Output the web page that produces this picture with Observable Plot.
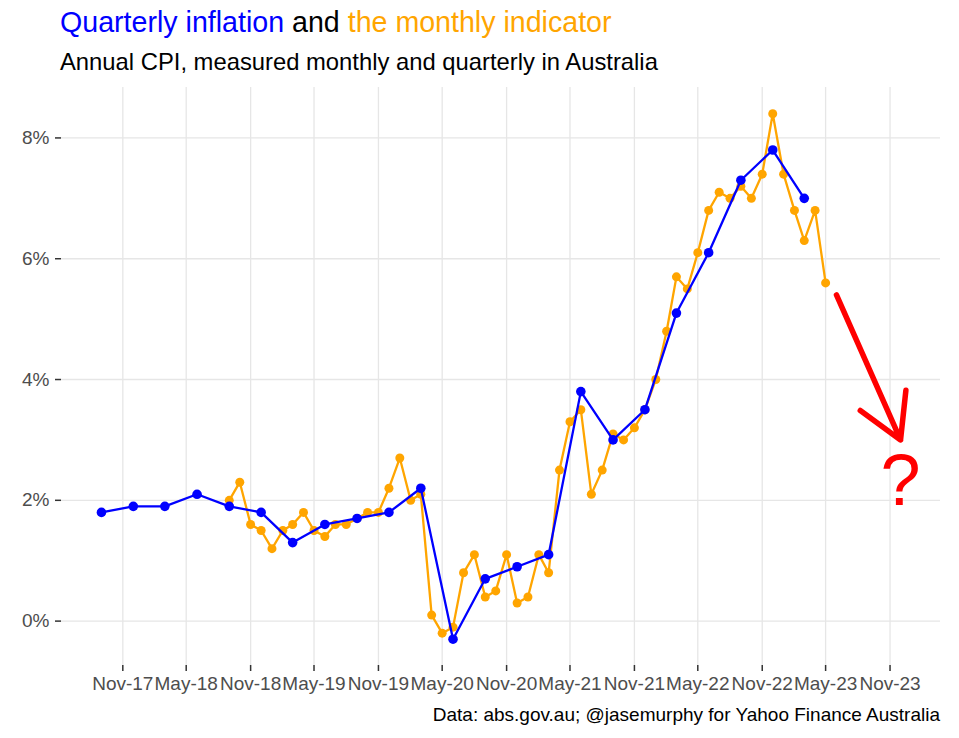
<!DOCTYPE html>
<html><head><meta charset="utf-8">
<script src="https://cdn.jsdelivr.net/npm/d3@7"></script>
<script src="https://cdn.jsdelivr.net/npm/@observablehq/plot@0.6"></script>
<style>
body{margin:0;background:#fff;font-family:"Liberation Sans",Arial,Helvetica,sans-serif;}
#wrap{position:relative;width:959px;height:738px;overflow:hidden;}
.t{position:absolute;white-space:nowrap;line-height:1;}
#title{left:60px;top:8px;font-size:28.6px;color:#000;}
#subtitle{left:60px;top:50px;font-size:23.8px;color:#000;}
#caption{right:19px;top:705px;font-size:19px;color:#000;}
#chart{position:absolute;left:0;top:80px;}
</style></head><body>
<div id="wrap">
<div id="title" class="t"><span style="color:#0000FF">Quarterly inflation</span> and <span style="color:#FFA500">the monthly indicator</span></div>
<div id="subtitle" class="t">Annual CPI, measured monthly and quarterly in Australia</div>
<div id="chart"></div>
<div id="caption" class="t">Data: abs.gov.au; @jasemurphy for Yahoo Finance Australia</div>
</div>
<script>
// Quarterly CPI (annual %)
const quarterDates = ["2017-09-01","2017-12-01","2018-03-01","2018-06-01","2018-09-01","2018-12-01",
  "2019-03-01","2019-06-01","2019-09-01","2019-12-01","2020-03-01","2020-06-01","2020-09-01","2020-12-01",
  "2021-03-01","2021-06-01","2021-09-01","2021-12-01","2022-03-01","2022-06-01","2022-09-01","2022-12-01","2023-03-01"];
const quarterValues = [1.8,1.9,1.9,2.1,1.9,1.8,1.3,1.6,1.7,1.8,2.2,-0.3,0.7,0.9,1.1,3.8,3.0,3.5,5.1,6.1,7.3,7.8,7.0];

// Monthly CPI indicator (annual %)
const monthDates = ["2018-09-01","2018-10-01","2018-11-01","2018-12-01",
  "2019-01-01","2019-02-01","2019-03-01","2019-04-01","2019-05-01","2019-06-01","2019-07-01","2019-08-01","2019-09-01","2019-10-01","2019-11-01","2019-12-01",
  "2020-01-01","2020-02-01","2020-03-01","2020-04-01","2020-05-01","2020-06-01","2020-07-01","2020-08-01","2020-09-01","2020-10-01","2020-11-01","2020-12-01",
  "2021-01-01","2021-02-01","2021-03-01","2021-04-01","2021-05-01","2021-06-01","2021-07-01","2021-08-01","2021-09-01","2021-10-01","2021-11-01","2021-12-01",
  "2022-01-01","2022-02-01","2022-03-01","2022-04-01","2022-05-01","2022-06-01","2022-07-01","2022-08-01","2022-09-01","2022-10-01","2022-11-01","2022-12-01",
  "2023-01-01","2023-02-01","2023-03-01","2023-04-01","2023-05-01"];
const monthValues = [2.0,2.3,1.6,1.5,
  1.2,1.5,1.6,1.8,1.5,1.4,1.6,1.6,1.7,1.8,1.8,2.2,
  2.7,2.0,2.1,0.1,-0.2,-0.1,0.8,1.1,0.4,0.5,1.1,0.3,
  0.4,1.1,0.8,2.5,3.3,3.5,2.1,2.5,3.1,3.0,3.2,3.5,
  4.0,4.8,5.7,5.5,6.1,6.8,7.1,7.0,7.2,7.0,7.4,8.4,
  7.4,6.8,6.3,6.8,5.6];

// Annotation
const arrowStart = ["2023-06-01"], arrowStartValue = [5.4];
const arrowEnd = ["2023-12-01"], arrowEndValue = [3.0];
const questionDate = ["2023-12-01"], questionValue = [2.3], questionText = ["?"];

// Axis ticks
const xTickDates = ["2017-11-01","2018-05-01","2018-11-01","2019-05-01","2019-11-01","2020-05-01","2020-11-01",
  "2021-05-01","2021-11-01","2022-05-01","2022-11-01","2023-05-01","2023-11-01"];
const yTicks = [0,2,4,6,8];

const parse = d3.utcParse("%Y-%m-%d");
const quarterly = quarterDates.map((d,i)=>({date: parse(d), value: quarterValues[i]}));
const monthly = monthDates.map((d,i)=>({date: parse(d), value: monthValues[i]}));
const arrows = arrowStart.map((d,i)=>({x1: parse(d), y1: arrowStartValue[i], x2: parse(arrowEnd[i]), y2: arrowEndValue[i]}));
const questions = questionDate.map((d,i)=>({date: parse(d), value: questionValue[i], text: questionText[i]}));
const xTicks = xTickDates.map(parse);

const allDates = [...quarterly.map(d=>d.date), ...monthly.map(d=>d.date), ...arrows.map(d=>d.x2)];
const [xa, xb] = d3.extent(allDates);
const xp = (xb - xa) * 0.05;
const xDomain = [new Date(+xa - xp), new Date(+xb + xp)];
const [ya, yb] = d3.extent([...quarterValues, ...monthValues]);
const yp = (yb - ya) * 0.05;
const yDomain = [ya - yp, yb + yp];

const font = '"Liberation Sans", Arial, Helvetica, sans-serif';
const chart = Plot.plot({
  width: 959, height: 625,
  marginTop: 7, marginBottom: 40, marginLeft: 61, marginRight: 19,
  style: {fontFamily: font, fontSize: "19px", background: "white", overflow: "visible"},
  x: {type: "utc", domain: xDomain},
  y: {domain: yDomain},
  marks: [
    Plot.ruleX(xTicks, {stroke: "#e6e6e6", strokeWidth: 1.3}),
    Plot.ruleY(yTicks, {stroke: "#e6e6e6", strokeWidth: 1.3}),
    Plot.axisX(xTicks, {tickFormat: d3.utcFormat("%b-%y"), tickSize: 6, tickPadding: 5, stroke: "#333", strokeWidth: 1.5, fill: "#4d4d4d", label: null, fontSize: 19}),
    Plot.axisY(yTicks, {tickFormat: d => d + "%", tickSize: 6, tickPadding: 6, stroke: "#333", strokeWidth: 1.5, fill: "#4d4d4d", label: null, fontSize: 19}),
    Plot.line(monthly, {x: "date", y: "value", stroke: "#FFA500", strokeWidth: 2.3}),
    Plot.dot(monthly, {x: "date", y: "value", fill: "#FFA500", r: 4.5}),
    Plot.line(quarterly, {x: "date", y: "value", stroke: "#0000FF", strokeWidth: 2.3}),
    Plot.dot(quarterly, {x: "date", y: "value", fill: "#0000FF", r: 4.8}),
    Plot.arrow(arrows, {x1: "x1", y1: "y1", x2: "x2", y2: "y2", stroke: "#FF0000", strokeWidth: 5.5, headLength: 13.6, headAngle: 60}),
    Plot.text(questions, {x: "date", y: "value", text: "text", fill: "#FF0000", fontSize: 72, lineAnchor: "middle", fontFamily: font})
  ]
});
document.getElementById("chart").appendChild(chart);
</script>
</body></html>
